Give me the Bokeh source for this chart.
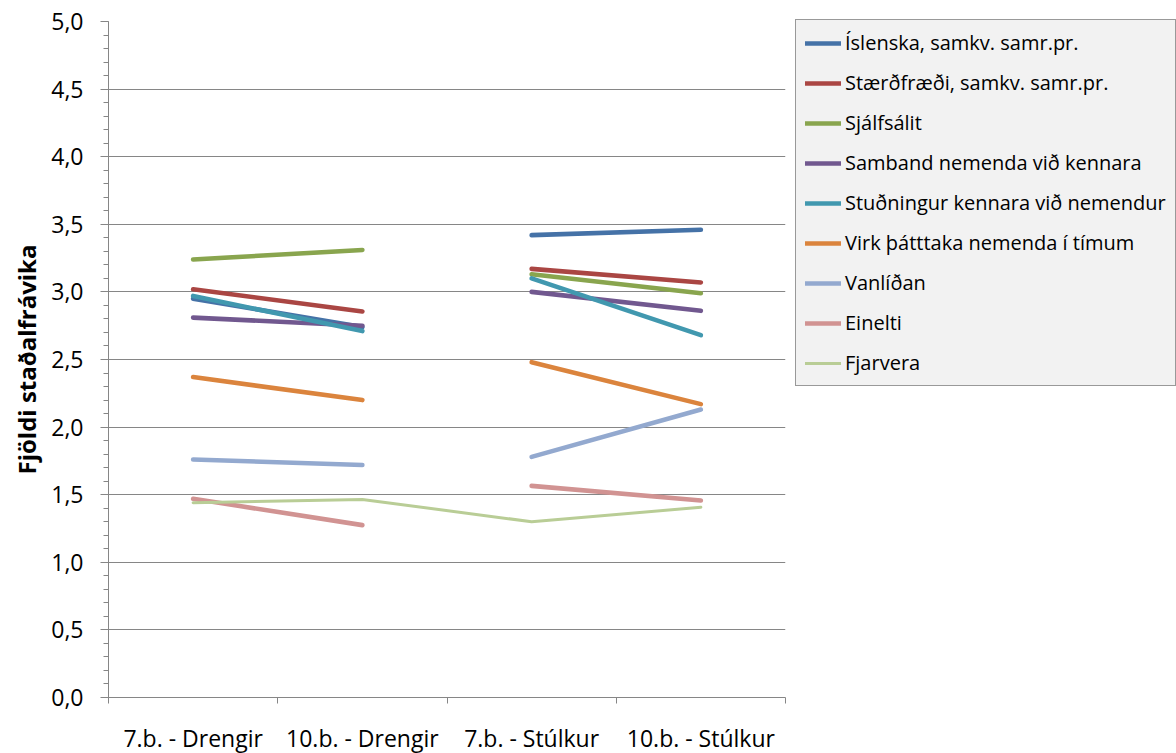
import math
from bokeh.plotting import figure
from bokeh.models import Range1d, FixedTicker, CustomJSTickFormatter, Legend, LegendItem, Title
from bokeh.embed import file_html
from bokeh.resources import INLINE

# ---------------- data ----------------
categories = ["7.b. - Drengir", "10.b. - Drengir", "7.b. - Stúlkur", "10.b. - Stúlkur"]

series_names = [
    "Íslenska, samkv. samr.pr.",
    "Stærðfræði, samkv. samr.pr.",
    "Sjálfsálit",
    "Samband nemenda við kennara",
    "Stuðningur kennara við nemendur",
    "Virk þátttaka nemenda í tímum",
    "Vanlíðan",
    "Einelti",
    "Fjarvera",
]

islenska = [2.95, 2.74, 3.42, 3.46]
staerdfraedi = [3.02, 2.855, 3.17, 3.07]
sjalfsalit = [3.24, 3.31, 3.13, 2.99]
samband = [2.81, 2.75, 3.00, 2.86]
studningur = [2.97, 2.71, 3.10, 2.68]
virk = [2.37, 2.20, 2.48, 2.17]
vanlidan = [1.76, 1.72, 1.78, 2.13]
einelti = [1.47, 1.275, 1.565, 1.457]
fjarvera = [1.44, 1.465, 1.30, 1.407]

series_values = [islenska, staerdfraedi, sjalfsalit, samband, studningur,
                 virk, vanlidan, einelti, fjarvera]

y_title = "Fjöldi staðalfrávika"

# which series are drawn as one unbroken line across all categories
connected = [False, False, False, False, False, False, False, False, True]
# category groups joined when a series is broken
groups = [[0, 1], [2, 3]]

y_major = [0.0, 0.5, 1.0, 1.5, 2.0, 2.5, 3.0, 3.5, 4.0, 4.5, 5.0]
y_minor = [round(i * 0.1, 1) for i in range(51)]

# ---------------- styles ----------------
colors = ["#4572A7", "#AA4643", "#89A54E", "#71588F", "#4198AF",
          "#DB843D", "#93A9CF", "#D19392", "#B9CD96"]
widths = [4.6, 4.6, 4.6, 4.6, 4.6, 4.6, 4.6, 4.6, 3]
FONT = "Open Sans"
GREY = "#868686"

x_pos = [i + 0.5 for i in range(len(categories))]

p = figure(
    frame_width=677, frame_height=676,
    min_border_left=108, min_border_top=21, min_border_bottom=56, min_border_right=391,
    x_range=Range1d(0, len(categories)), y_range=Range1d(0, 5),
    output_backend="svg", toolbar_location=None,
    background_fill_color="white", border_fill_color="white",
)
p.outline_line_color = None

# y axis
p.yaxis.ticker = FixedTicker(ticks=y_major, minor_ticks=y_minor)
p.yaxis.formatter = CustomJSTickFormatter(code="return tick.toFixed(1).replace('.', ',');")
p.yaxis.axis_line_color = GREY
p.yaxis.major_tick_line_color = GREY
p.yaxis.minor_tick_line_color = GREY
p.yaxis.major_tick_out = 8
p.yaxis.major_tick_in = 0
p.yaxis.minor_tick_out = 5
p.yaxis.minor_tick_in = 0
p.yaxis.major_label_standoff = 17
p.yaxis.major_label_text_font = FONT
p.yaxis.major_label_text_font_size = "23px"
p.yaxis.major_label_text_color = "#000000"

ytitle = Title(text=y_title, align="center", offset=-10, standoff=12,
               text_font=FONT, text_font_size="24px", text_font_style="bold",
               text_color="#000000")
p.add_layout(ytitle, "left")

# x axis
p.xaxis.ticker = FixedTicker(ticks=x_pos, minor_ticks=list(range(len(categories) + 1)))
p.xaxis.formatter = CustomJSTickFormatter(args=dict(labels=categories),
                                          code="return labels[Math.floor(tick)];")
p.xaxis.axis_line_color = GREY
p.xaxis.major_tick_line_color = None
p.xaxis.major_tick_out = 0
p.xaxis.major_tick_in = 0
p.xaxis.minor_tick_line_color = GREY
p.xaxis.minor_tick_out = 6
p.xaxis.minor_tick_in = 0
p.xaxis.major_label_standoff = 18
p.xaxis.major_label_text_font = FONT
p.xaxis.major_label_text_font_size = "23px"
p.xaxis.major_label_text_color = "#000000"

# grid
p.xgrid.visible = False
p.ygrid.ticker = FixedTicker(ticks=y_major)
p.ygrid.grid_line_color = GREY
p.ygrid.grid_line_width = 1

items = []
for name, vals, col, w, conn in zip(series_names, series_values, colors, widths, connected):
    if conn:
        xs = [x_pos]
        ys = [vals]
    else:
        xs = [[x_pos[i] for i in g] for g in groups]
        ys = [[vals[i] for i in g] for g in groups]
    r = p.multi_line(xs, ys, line_color=col, line_width=w, line_cap="round", line_join="round")
    items.append(LegendItem(label=name, renderers=[r]))

legend = Legend(items=items, location=(10, 311))
legend.margin = 0
legend.padding = 9
legend.spacing = 13
legend.glyph_width = 36
legend.glyph_height = 20
legend.label_height = 20
legend.label_standoff = 4
legend.label_text_font = FONT
legend.label_text_font_size = "20px"
legend.label_text_color = "#000000"
legend.background_fill_color = "#F2F2F2"
legend.background_fill_alpha = 1.0
legend.border_line_color = "#404040"
legend.border_line_width = 1
p.add_layout(legend, "right")

html = file_html(p, INLINE, title="chart")
open("out.html", "w").write(html)
